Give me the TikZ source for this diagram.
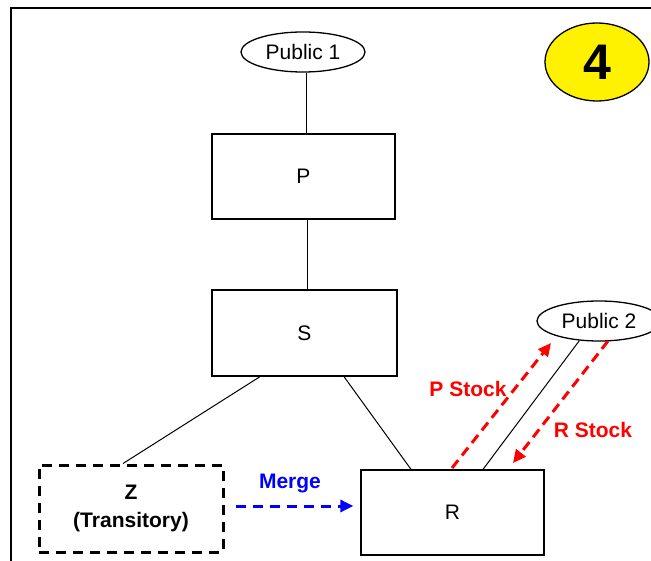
\documentclass[tikz,border=0pt]{standalone}
\usepackage{fontspec}
\setmainfont{Liberation Sans}
\usetikzlibrary{shapes.geometric,arrows.meta,calc}
\begin{document}
\begin{tikzpicture}[x=1pt,y=-1pt,
  txt/.style={font=\fontsize{21pt}{28pt}\selectfont},
  boxnode/.style={draw,line width=1.3pt,rectangle,inner sep=0pt,txt},
  pubnode/.style={draw,line width=1.3pt,ellipse,inner sep=0pt,minimum width=124pt,minimum height=40pt,txt},
  link/.style={line width=1pt},
  redarrow/.style={draw=red,line width=3pt,dash pattern=on 10pt off 6pt,-{Triangle[length=13pt,width=12pt]}},
  bluearrow/.style={draw=blue,line width=3pt,dash pattern=on 10pt off 7pt,-{Triangle[length=13pt,width=12pt]}},
  redlbl/.style={text=red,font=\fontsize{21pt}{25pt}\selectfont\bfseries},
  bluelbl/.style={text=blue,font=\fontsize{21pt}{25pt}\selectfont\bfseries}]
\useasboundingbox (0,0) rectangle (651,561);
\draw[line width=2pt] (11,700) -- (11,8) -- (700,8);

\node[pubnode] (pub1) at (303,52) {Public 1};
\node[pubnode] (pub2) at (599,321) {Public 2};
\node[draw,line width=1.3pt,ellipse,fill=yellow,inner sep=0pt,minimum width=104pt,minimum height=78pt,font=\fontsize{50pt}{55pt}\selectfont\bfseries] (four) at (597,62) {4};

\node[boxnode,minimum width=183pt,minimum height=85pt] (P) at (303.5,176.5) {P};
\node[boxnode,minimum width=185pt,minimum height=86pt] (S) at (304.5,333) {S};
\node[boxnode,minimum width=183pt,minimum height=85pt] (R) at (452.5,512.5) {R};
\node[draw,line width=3pt,dash pattern=on 10pt off 7pt,rectangle,inner sep=0pt,minimum width=184pt,minimum height=87pt,align=center,font=\fontsize{21pt}{28pt}\selectfont\bfseries] (Z) at (131,508.5) {Z\\(Transitory)};

\draw[link] (pub1.south -| 306,0) -- (P.north -| 306,0);
\draw[link] (P.south -| 307,0) -- (S.north -| 307,0);
\draw[link] (S.south -| 260,0) -- (Z.north -| 123,0);
\draw[link] (S.south -| 344,0) -- (R.north -| 411,0);
\draw[link] (pub2.225) -- (R.north -| 483,0);

\coordinate (pst) at (452,468);
\coordinate (pen) at (551,343);
\coordinate (rst) at (608,341);
\coordinate (ren) at (513,463);
\draw[redarrow] (pst) -- (pen);
\draw[redarrow] (rst) -- (ren);
\node[redlbl] (plbl) at (468,389) {P Stock};
\node[redlbl] (rlbl) at (593,430) {R Stock};

\coordinate (mst) at ([xshift=11pt,yshift=2.5pt]Z.east);
\draw[bluearrow] (mst) -- ([xshift=-7pt]R.west |- mst);
\node[bluelbl] (mlbl) at (290,484) {Merge};
\end{tikzpicture}
\end{document}
